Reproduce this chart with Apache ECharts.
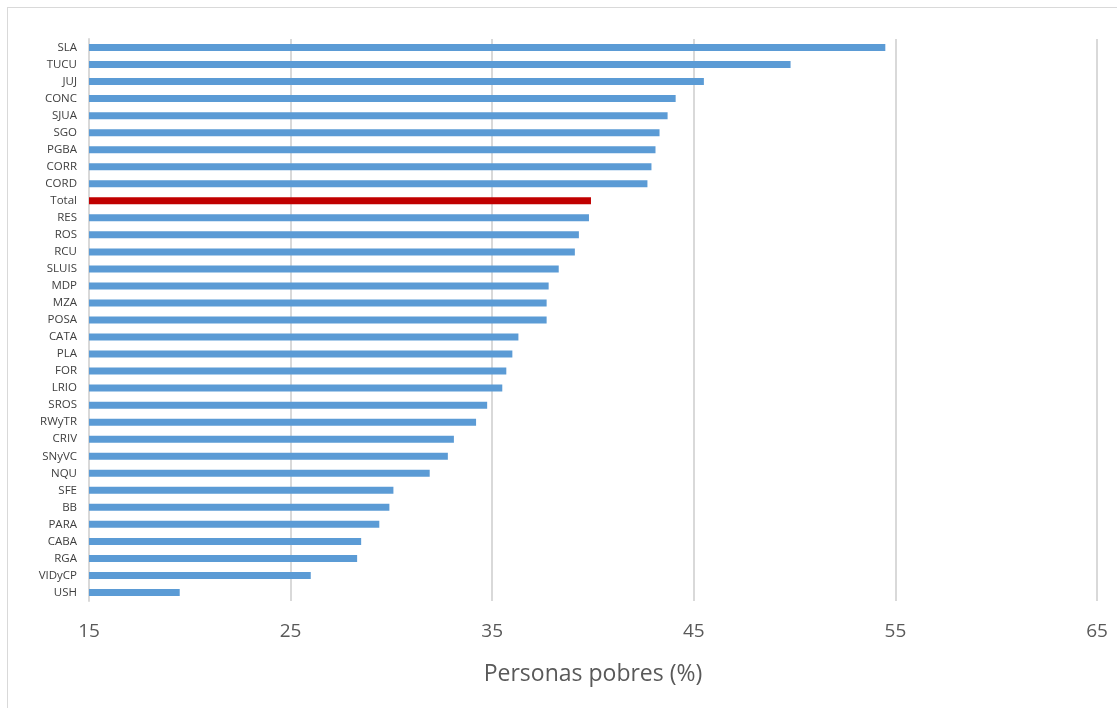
<!DOCTYPE html>
<html>
<head>
<meta charset="utf-8">
<title>Personas pobres (%)</title>
<script src="https://cdn.jsdelivr.net/npm/echarts@6/dist/echarts.min.js"></script>
<style>
  html, body { margin: 0; padding: 0; background: #ffffff; }
  #frame {
    position: absolute; left: 7px; top: 7px; width: 1120px; height: 710px;
    border-left: 1px solid #d9d9d9; border-top: 1px solid #d9d9d9;
  }
  #chart { position: absolute; left: 0; top: 0; width: 1117px; height: 708px; }
</style>
</head>
<body>
<div id="frame"></div>
<div id="chart"></div>
<script>
// Aglomerados urbanos, de mayor a menor porcentaje de personas pobres
const categories = [
  'SLA', 'TUCU', 'JUJ', 'CONC', 'SJUA', 'SGO', 'PGBA', 'CORR', 'CORD', 'Total',
  'RES', 'ROS', 'RCU', 'SLUIS', 'MDP', 'MZA', 'POSA', 'CATA', 'PLA', 'FOR',
  'LRIO', 'SROS', 'RWyTR', 'CRIV', 'SNyVC', 'NQU', 'SFE', 'BB', 'PARA', 'CABA',
  'RGA', 'VIDyCP', 'USH'
];
const pobres = [
  54.5, 49.8, 45.5, 44.1, 43.7, 43.3, 43.1, 42.9, 42.7, 39.9,
  39.8, 39.3, 39.1, 38.3, 37.8, 37.7, 37.7, 36.3, 36.0, 35.7,
  35.5, 34.75, 34.2, 33.1, 32.8, 31.9, 30.1, 29.9, 29.4, 28.5,
  28.3, 26.0, 19.5
];
const xTicks = { min: 15, max: 65, step: 10 };
const highlighted = 'Total';

const blue = '#5b9bd5';
const red = '#c00000';

const chart = echarts.init(document.getElementById('chart'), null, { renderer: 'canvas' });

chart.setOption({
  animation: false,
  backgroundColor: 'transparent',
  grid: { left: 89, right: 20, top: 39, bottom: 107 },
  xAxis: {
    type: 'value',
    min: xTicks.min,
    max: xTicks.max,
    interval: xTicks.step,
    name: 'Personas pobres (%)',
    nameLocation: 'middle',
    nameGap: 62,
    nameTextStyle: { fontFamily: 'Open Sans', fontSize: 23, color: '#595959' },
    axisLine: { show: false },
    axisTick: { show: false },
    axisLabel: { fontFamily: 'Open Sans', fontSize: 19, color: '#595959', margin: 21 },
    splitLine: { show: true, lineStyle: { color: '#d9d9d9', width: 2 } }
  },
  yAxis: {
    type: 'category',
    inverse: true,
    data: categories,
    axisLine: { show: true, lineStyle: { color: '#d9d9d9', width: 2 } },
    axisTick: { show: false },
    axisLabel: { fontFamily: 'Open Sans', fontSize: 11.5, color: '#404040', margin: 12 }
  },
  series: [{
    type: 'bar',
    barWidth: 7,
    data: pobres.map((v, i) => ({
      value: v,
      itemStyle: { color: categories[i] === highlighted ? red : blue }
    }))
  }]
});
</script>
</body>
</html>
